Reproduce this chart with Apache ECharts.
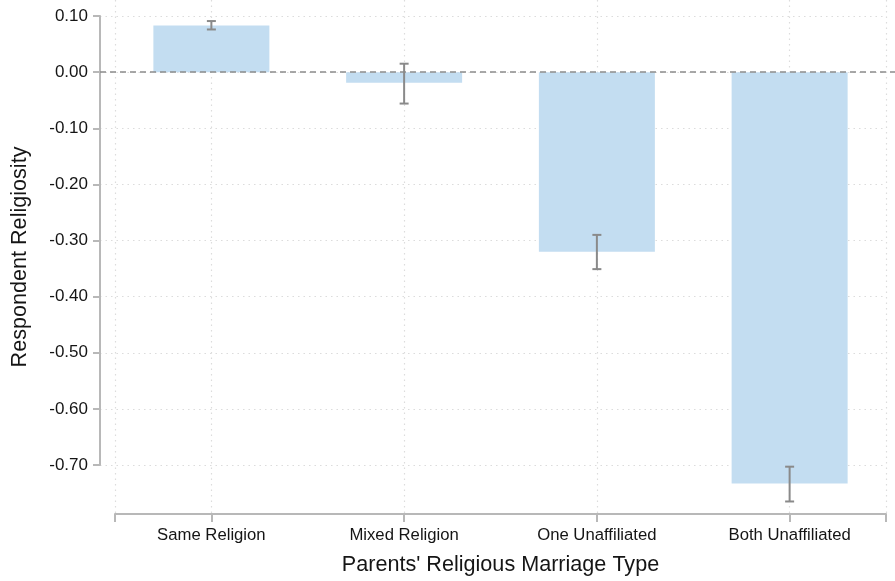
<!DOCTYPE html>
<html><head><meta charset="utf-8">
<script src="https://cdn.jsdelivr.net/npm/echarts@6/dist/echarts.min.js"></script>
<style>html,body{margin:0;padding:0;background:#fff}#c{width:895px;height:581px}</style>
</head><body><div id="c"></div>
<script>
const categories = ['Same Religion', 'Mixed Religion', 'One Unaffiliated', 'Both Unaffiliated'];
const values = [0.083, -0.019, -0.320, -0.733];
const ciLow = [0.076, -0.056, -0.351, -0.765];
const ciHigh = [0.091, 0.015, -0.290, -0.703];
const yTicks = [-0.7, -0.6, -0.5, -0.4, -0.3, -0.2, -0.1, 0, 0.1];

const FONT = '"Liberation Sans", Arial, Helvetica, sans-serif';
const AXIS_COLOR = '#b8b8b8';
const GRID_COLOR = '#dcdcdc';
const TEXT = '#151515';

const chart = echarts.init(document.getElementById('c'));
chart.setOption({
  animation: false,
  textStyle: { fontFamily: FONT },
  grid: [
    { left: 100, right: 9, top: 16, bottom: 116 },   // y axis + horizontal grid
    { left: 115, right: 9, top: 16, bottom: 116 },   // bars
    { left: 115, right: 9, top: 0, bottom: 65 },     // x axis + vertical grid
    { left: 100, right: 0, top: 16, bottom: 116 }    // zero line
  ],
  xAxis: [
    { gridIndex: 0, type: 'value', min: 0, max: 1, show: false },
    { gridIndex: 1, type: 'category', data: categories, show: false, boundaryGap: true },
    { gridIndex: 2, type: 'value', min: 0.5, max: 4.5,
      axisLine: { show: true, lineStyle: { color: AXIS_COLOR, width: 2 } },
      axisTick: { show: true, length: 8, lineStyle: { color: AXIS_COLOR, width: 2 },
                  customValues: [0.5, 1, 2, 3, 4, 4.5] },
      axisLabel: { customValues: [1, 2, 3, 4], margin: 13, color: TEXT, fontSize: 16.7,
                   fontFamily: FONT, formatter: v => categories[Math.round(v) - 1] },
      splitLine: { show: true, lineStyle: { color: GRID_COLOR, type: [1.5, 4], width: 1.2 } },
      name: "Parents' Religious Marriage Type", nameLocation: 'middle', nameGap: 40,
      nameTextStyle: { fontSize: 21.6, color: TEXT, fontFamily: FONT } },
    { gridIndex: 3, type: 'value', min: 0, max: 1, show: false }
  ],
  yAxis: [
    { gridIndex: 0, type: 'value', min: -0.7, max: 0.1, interval: 0.1,
      axisLine: { show: true, lineStyle: { color: AXIS_COLOR, width: 2 } },
      axisTick: { show: true, length: 7, lineStyle: { color: AXIS_COLOR, width: 2 } },
      axisLabel: { margin: 12, color: TEXT, fontSize: 17, fontFamily: FONT,
                   formatter: v => v.toFixed(2) },
      splitLine: { show: true, lineStyle: { color: GRID_COLOR, type: [1.5, 4], width: 1.2 } } },
    { gridIndex: 1, type: 'value', min: -0.7, max: 0.1, show: false },
    { gridIndex: 2, type: 'value', min: 0, max: 1, show: true,
      axisLine: { show: false }, axisTick: { show: false }, axisLabel: { show: false },
      splitLine: { show: false },
      name: 'Respondent Religiosity', nameLocation: 'middle', nameGap: 84,
      nameTextStyle: { fontSize: 21.6, color: TEXT, fontFamily: FONT } },
    { gridIndex: 3, type: 'value', min: -0.7, max: 0.1, show: false }
  ],
  series: [
    { type: 'bar', xAxisIndex: 1, yAxisIndex: 1, data: values, barWidth: 116, clip: false,
      itemStyle: { color: '#c3ddf1' }, z: 2 },
    { type: 'custom', xAxisIndex: 1, yAxisIndex: 1, clip: false, z: 5,
      data: categories.map((c, i) => [i, ciLow[i], ciHigh[i]]),
      renderItem: function (params, api) {
        const x = api.value(0);
        const lo = api.coord([x, api.value(1)]);
        const hi = api.coord([x, api.value(2)]);
        const w = 4.5;
        const st = { stroke: '#8a8a8a', lineWidth: 2, fill: null };
        return { type: 'group', children: [
          { type: 'line', shape: { x1: lo[0], y1: lo[1], x2: hi[0], y2: hi[1] }, style: st },
          { type: 'line', shape: { x1: lo[0] - w, y1: lo[1], x2: lo[0] + w, y2: lo[1] }, style: st },
          { type: 'line', shape: { x1: hi[0] - w, y1: hi[1], x2: hi[0] + w, y2: hi[1] }, style: st }
        ] };
      } },
    { type: 'line', xAxisIndex: 3, yAxisIndex: 3, data: [], z: 6,
      markLine: { silent: true, symbol: 'none', label: { show: false },
        lineStyle: { color: '#8c8c8c', type: [6, 4], width: 1.6 },
        data: [{ yAxis: 0 }] } }
  ]
});
</script></body></html>
